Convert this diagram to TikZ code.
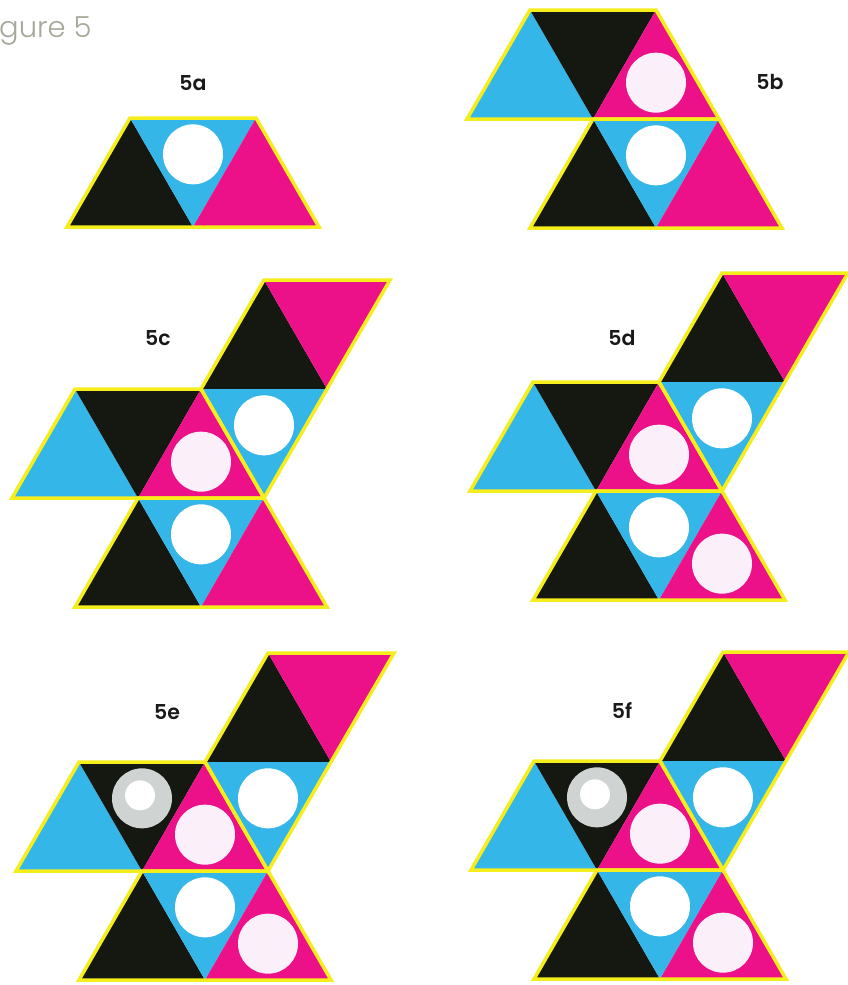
\documentclass[tikz,border=0pt]{standalone}
\usepackage{fontspec}
\setmainfont{Poppins}
\newfontfamily\tituloletra{Poppins Light}
\newfontfamily\etiquetaletra{Poppins SemiBold}
\usetikzlibrary{positioning}

\definecolor{tcyan}{HTML}{35B6E9}
\definecolor{tmagenta}{HTML}{EC1189}
\definecolor{tblack}{HTML}{151711}
\definecolor{tyellow}{HTML}{F5ED1C}
\definecolor{ringgray}{HTML}{CFD3D1}
\definecolor{discpink}{HTML}{FBF0FA}
\definecolor{titlegray}{HTML}{A7A899}

\tikzset{
  pieza/.style={draw=tyellow, line width=3.5pt, line join=miter},
  etiqueta/.style={font=\etiquetaletra\fontsize{20.5}{22}\selectfont, text=black!90, inner sep=0pt},
  titulo/.style={font=\tituloletra\fontsize{29}{31}\selectfont, text=titlegray, inner sep=0pt, anchor=base west}
}

\begin{document}
\begin{tikzpicture}[x=1pt, y=-1pt]

  % Parámetros de la red triangular
  \def\sh{63pt}    % medio lado del triángulo
  \def\hh{109pt}   % altura de una fila
  \def\rd{30pt}    % radio de los discos

  % --- Triángulos con esquina (u,v) en unidades de la red ---
  \def\uptri#1#2#3{\fill[#3] (#1,#2+1) -- ++(2,0) -- ++(-1,-1) -- cycle;}
  \def\dntri#1#2#3{\fill[#3] (#1,#2) -- ++(2,0) -- ++(-1,1) -- cycle;}
  % discos en el baricentro
  \def\updisc#1#2#3{\fill[#3] (#1+1,#2+2/3) circle (\rd);}
  \def\dndisc#1#2#3{\fill[#3] (#1+1,#2+1/3) circle (\rd);}

  \useasboundingbox[fill=white] (0,0) rectangle (847,985);

  % --- Título (cortado por el borde) ---
  \node[titulo] (titulo) at (-1,37) {gure 5};

  % --- Figura 5a ---
  \begin{scope}[shift={(67,118)}, x=\sh, y=-\hh]
    \uptri{0}{0}{tblack} \dntri{1}{0}{tcyan} \uptri{2}{0}{tmagenta}
    \dndisc{1}{0}{white}
    \draw[pieza] (1,0) -- (3,0) -- (4,1) -- (0,1) -- cycle;
  \end{scope}

  % --- Figura 5b ---
  \begin{scope}[shift={(467,10)}, x=\sh, y=-\hh]
    \uptri{0}{0}{tcyan} \dntri{1}{0}{tblack} \uptri{2}{0}{tmagenta}
    \updisc{2}{0}{discpink}
    \uptri{1}{1}{tblack} \dntri{2}{1}{tcyan} \uptri{3}{1}{tmagenta}
    \dndisc{2}{1}{white}
    \draw[pieza] (1,0) -- (3,0) -- (4,1) -- (0,1) -- cycle;
    \draw[pieza] (2,1) -- (4,1) -- (5,2) -- (1,2) -- cycle;
  \end{scope}

  % --- Figuras 5c a 5f: la misma red de tres piezas ---
  \foreach \ox/\oy in {12/280, 470/273, 16/653, 471/652}{
    \begin{scope}[shift={(\ox,\oy)}, x=\sh, y=-\hh]
      % pieza superior
      \uptri{3}{0}{tblack} \dntri{4}{0}{tmagenta} \dntri{3}{1}{tcyan}
      \dndisc{3}{1}{white}
      % pieza izquierda
      \uptri{0}{1}{tcyan} \dntri{1}{1}{tblack} \uptri{2}{1}{tmagenta}
      \updisc{2}{1}{discpink}
      % pieza inferior
      \uptri{1}{2}{tblack} \dntri{2}{2}{tcyan} \uptri{3}{2}{tmagenta}
      \dndisc{2}{2}{white}
      \draw[pieza] (4,0) -- (6,0) -- (4,2) -- (3,1) -- cycle;
      \draw[pieza] (1,1) -- (3,1) -- (4,2) -- (0,2) -- cycle;
      \draw[pieza] (2,2) -- (4,2) -- (5,3) -- (1,3) -- cycle;
    \end{scope}
  }

  % disco extra abajo a la derecha (5d, 5e, 5f)
  \foreach \ox/\oy in {470/273, 16/653, 471/652}{
    \begin{scope}[shift={(\ox,\oy)}, x=\sh, y=-\hh]
      \updisc{3}{2}{discpink}
    \end{scope}
  }

  % anillo gris en el triángulo negro (5e, 5f)
  \foreach \ox/\oy in {16/653, 471/652}{
    \begin{scope}[shift={(\ox,\oy)}, x=\sh, y=-\hh]
      \dndisc{1}{1}{ringgray}
      \fill[white] ([shift={(-2pt,3pt)}]2,1+1/3) circle (15pt);
    \end{scope}
  }

  % --- Etiquetas ---
  \node[etiqueta] (e5a) at (193,83) {5a};
  \node[etiqueta] (e5b) at (770,82) {5b};
  \node[etiqueta] (e5c) at (158,338) {5c};
  \node[etiqueta] (e5d) at (622,338) {5d};
  \node[etiqueta] (e5e) at (167,712) {5e};
  \node[etiqueta] (e5f) at (622,710) {5f};

\end{tikzpicture}
\end{document}
